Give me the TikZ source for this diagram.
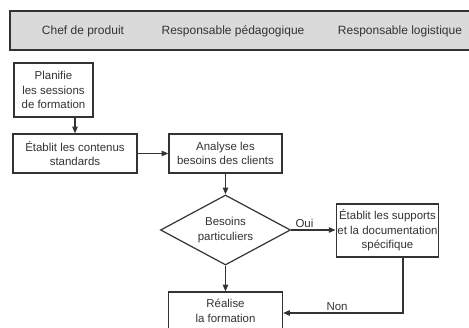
\documentclass[tikz,border=0pt]{standalone}
\usepackage{fontspec}
\setmainfont{Liberation Sans}
\usetikzlibrary{shapes.geometric,arrows.meta}
\definecolor{ink}{HTML}{333333}
\definecolor{band}{HTML}{DADADA}
\begin{document}
\begin{tikzpicture}[x=0.75pt,y=-0.75pt,
  every node/.style={text=ink},
  lane/.style={font=\fontsize{9}{11}\selectfont},
  task/.style={draw=ink,line width=0.9pt,align=center,inner sep=1pt,
    font=\fontsize{8.6}{11}\selectfont},
  choice/.style={draw=ink,line width=0.9pt,shape=diamond,aspect=1.86,inner sep=0pt,
    minimum width=97.5pt,minimum height=52.5pt,align=center,
    font=\fontsize{8.6}{11}\selectfont},
  flow/.style={draw=ink,line width=0.9pt,-{Triangle[length=5pt,width=4pt]}},
  tag/.style={font=\fontsize{8.6}{10}\selectfont,inner sep=1pt}]
\useasboundingbox (0,0) rectangle (469,328);

% role band across the top
\draw[draw=ink,line width=1.1pt,fill=band] (10,11) rectangle (475,50);
\node[lane] (chef) at (83,31) {Chef de produit};
\node[lane] (peda) at (233,31) {Responsable pédagogique};
\node[lane] (logi) at (400,31) {Responsable logistique};

% activities
\node[task,minimum width=59.25pt,minimum height=40.5pt] (plan) at (53.5,90)
  {Planifie\\les sessions\\de formation};
\node[task,minimum width=93pt,minimum height=29.25pt] (std) at (75,153.5)
  {Établit les contenus\\standards};
\node[task,minimum width=84.75pt,minimum height=29.25pt] (ana) at (225.5,153.5)
  {Analyse les\\besoins des clients};
\node[choice] (dec) at (225.5,230) {Besoins\\particuliers};
\node[task,minimum width=75pt,minimum height=39.75pt] (supp) at (387.5,230.5)
  {Établit les supports\\et la documentation\\spécifique};
\node[task,minimum width=85.5pt,minimum height=28.5pt] (real) at (225.5,311)
  {Réalise\\la formation};
\coordinate (corner) at (403,313);

% connectors
\draw[flow] (plan.south -| std.north) -- (std.north);
\draw[flow] (std.east) -- (ana.west);
\draw[flow] (ana.south) -- (dec.north);
\draw[flow] (dec.east) -- node[tag,above,pos=0.3] (oui) {Oui} (dec.east -| supp.west);
\draw[flow] (dec.south) -- (real.north);
\draw[flow] (supp.south -| corner) -- (corner) -- node[tag,above,pos=0.55] (non) {Non} (corner -| real.east);
\end{tikzpicture}
\end{document}
